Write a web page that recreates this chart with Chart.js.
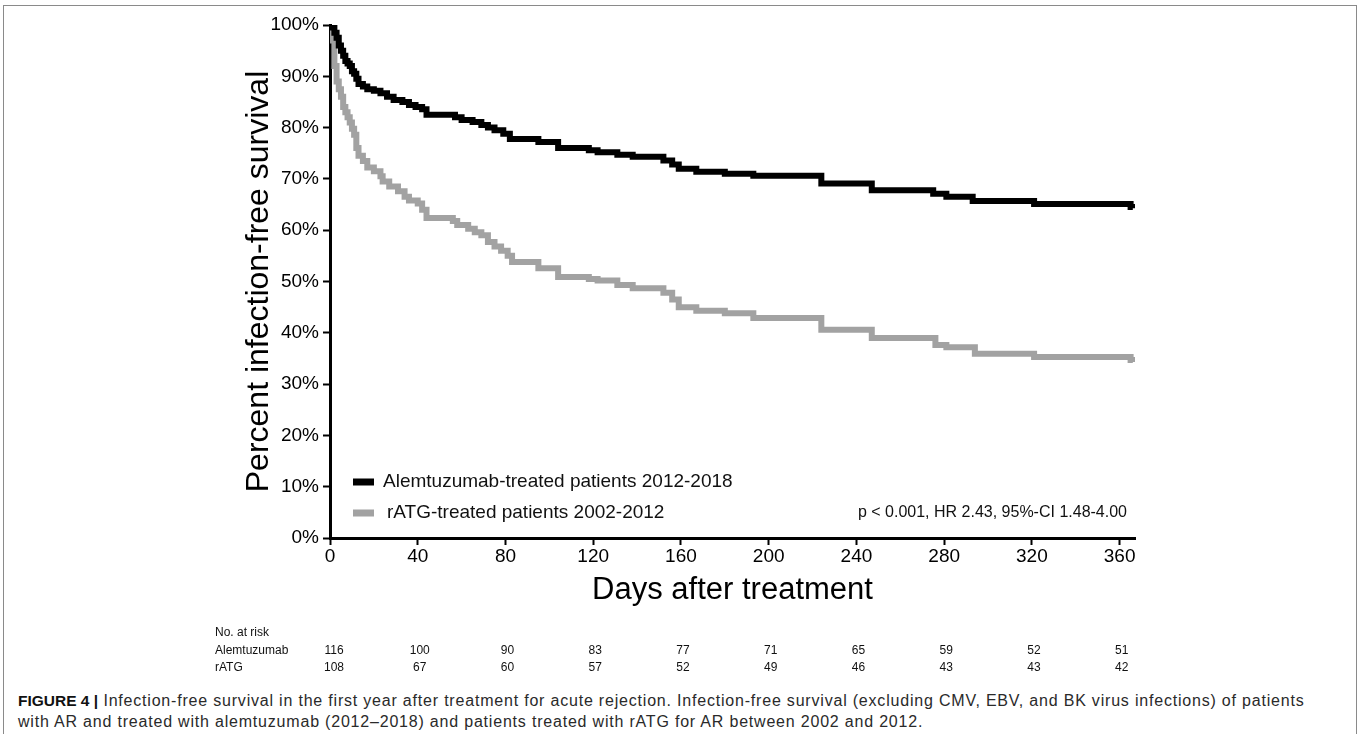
<!DOCTYPE html>
<html>
<head>
<meta charset="utf-8">
<script src="https://cdn.jsdelivr.net/npm/chart.js@4.4.0/dist/chart.umd.min.js"></script>
<style>
  body { margin: 0; background: #fff; width: 1360px; height: 734px; overflow: hidden; position: relative;
         font-family: "Liberation Sans", Arial, sans-serif; }
  #frame { position: absolute; left: 3px; top: 5px; width: 1352px; height: 760px; border: 1px solid #8a8a8a; border-bottom: none; }
  #wrap { position: absolute; left: 0; top: 0; width: 1360px; height: 690px; }
  #caption { position: absolute; left: 18px; top: 690px; font-size: 16px; line-height: 21px; color: #2a2a2a;
             white-space: nowrap; letter-spacing: 0.8px; }
  #caption b { color: #111; font-size: 15.5px; letter-spacing: 0; }
</style>
</head>
<body>
<div id="frame"></div>
<div id="wrap"><canvas id="km"></canvas></div>
<div id="caption"><b>FIGURE 4 |</b> Infection-free survival in the first year after treatment for acute rejection. Infection-free survival (excluding CMV, EBV, and BK virus infections) of patients<br>with AR and treated with alemtuzumab (2012–2018) and patients treated with rATG for AR between 2002 and 2012.</div>
<script>
// Kaplan-Meier steps (day of event, survival % after it)
const alemDays = [0, 1, 2, 3, 4, 5, 6, 7, 8, 9, 10, 11, 12, 13, 15, 17, 20, 23, 26, 29, 33, 36, 39, 42, 44,
  57, 60, 65, 69, 72, 75, 79, 82, 95, 104, 118, 122, 131, 138, 152, 156, 159, 167, 180, 193, 224, 247,
  275, 281, 293, 321, 365, 366];
const alemSurv = [100, 99.5, 98.5, 97.5, 96, 95, 94, 93, 92.5, 92, 91, 90.5, 89.5, 88.5, 88, 87.5, 87.2, 86.7,
  86, 85.4, 85, 84.4, 84, 83.6, 82.5, 82, 81.5, 81.1, 80.5, 80, 79.5, 78.8, 77.8, 77.2, 76, 75.6, 75.2, 74.7,
  74.3, 73.6, 72.8, 72, 71.4, 71, 70.6, 69.1, 67.8, 67.1, 66.5, 65.7, 65.1, 64.5, 64.3];

const ratgDays = [0, 1, 2, 3, 4, 5, 6, 7, 8, 9, 10, 11, 12, 13, 15, 17, 20, 23, 24, 27, 31, 34, 36, 40, 42, 44,
  56, 58, 63, 66, 69, 72, 75, 78, 81, 83, 95, 104, 118, 122, 131, 138, 152, 156, 159, 167, 180, 193, 224,
  247, 276, 281, 294, 321, 365, 366];
const ratgSurv = [100, 97, 92, 89, 87.5, 86, 84, 83, 82, 81, 79.8, 78.6, 76, 74.5, 73.5, 72.2, 71.5, 70.5, 69.5,
  68.5, 67.6, 66.5, 65.8, 65.2, 64, 62.4, 61.8, 61, 60.3, 59.6, 59, 57.7, 56.8, 56, 55, 53.8, 52.6, 50.9,
  50.5, 50.2, 49.3, 48.7, 47.8, 46.5, 45, 44.3, 43.8, 42.9, 40.6, 39, 37.6, 37.2, 35.9, 35.3, 34.7, 34.3];

const seriesNames = ['Alemtuzumab-treated patients 2012-2018', 'rATG-treated patients 2002-2012'];
const riskGroups = ['Alemtuzumab', 'rATG'];
const riskDays = [0, 40, 80, 120, 160, 200, 240, 280, 320, 360];
const riskAlem = [116, 100, 90, 83, 77, 71, 65, 59, 52, 51];
const riskRatg = [108, 67, 60, 57, 52, 49, 46, 43, 43, 42];
const statText = 'p < 0.001, HR 2.43, 95%-CI 1.48-4.00';

const FONT = '"Liberation Sans", Arial, sans-serif';

const toPoints = (days, vals) => days.map((d, i) => ({ x: d, y: vals[i] }));

const overlay = {
  id: 'overlay',
  afterDraw(chart) {
    const { ctx, chartArea, scales: { x } } = chart;
    ctx.save();
    // legend inside the plot
    const rowsY = [chartArea.bottom - 56, chartArea.bottom - 25];
    const textX = [chartArea.left + 53, chartArea.left + 57];
    ctx.font = '19px ' + FONT;
    ctx.textBaseline = 'middle';
    chart.data.datasets.forEach((ds, i) => {
      ctx.fillStyle = ds.borderColor;
      ctx.fillRect(chartArea.left + 23, rowsY[i] - 3.5, 21, 7);
      ctx.fillStyle = '#111';
      ctx.textAlign = 'left';
      ctx.fillText(ds.label, textX[i], rowsY[i]);
    });
    ctx.font = '16px ' + FONT;
    ctx.textAlign = 'right';
    ctx.fillText(statText, chartArea.right - 8, rowsY[1]);

    // numbers at risk
    ctx.font = '12px ' + FONT;
    ctx.textAlign = 'left';
    ctx.fillStyle = '#111';
    ctx.fillText('No. at risk', 215, 633);
    ctx.fillText(riskGroups[0], 215, 651);
    ctx.fillText(riskGroups[1], 215, 668);
    ctx.textAlign = 'center';
    riskDays.forEach((d, i) => {
      const px = x.getPixelForValue(d) + (i === 0 ? 4 : 2);
      ctx.fillText(String(riskAlem[i]), px, 651);
      ctx.fillText(String(riskRatg[i]), px, 668);
    });
    ctx.restore();
  }
};

new Chart(document.getElementById('km'), {
  type: 'line',
  data: {
    datasets: [
      { label: seriesNames[0], data: toPoints(alemDays, alemSurv), borderColor: '#000000',
        borderWidth: 6, pointRadius: 0, stepped: true, fill: false },
      { label: seriesNames[1], data: toPoints(ratgDays, ratgSurv), borderColor: '#a2a2a2',
        borderWidth: 6, pointRadius: 0, stepped: true, fill: false }
    ]
  },
  options: {
    responsive: true,
    maintainAspectRatio: false,
    animation: false,
    layout: { padding: { left: 236, right: 225, top: 25, bottom: 77 } },
    plugins: { legend: { display: false }, tooltip: { enabled: false } },
    scales: {
      x: {
        type: 'linear', min: 0, max: 367,
        afterFit(scale) { scale.height = 75; },
        border: { display: true, color: '#000', width: 3 },
        grid: { display: true, drawOnChartArea: false, drawTicks: true, tickLength: 7, tickWidth: 2, tickColor: '#000' },
        ticks: { stepSize: 40, includeBounds: false, color: '#000', padding: 0, maxRotation: 0,
                 font: { family: FONT, size: 19 } },
        title: { display: true, text: 'Days after treatment', color: '#000',
                 font: { family: FONT, size: 31 }, padding: { top: 0, bottom: 4 } }
      },
      y: {
        min: 0, max: 100,
        afterFit(scale) { scale.width = 94; },
        border: { display: true, color: '#000', width: 3 },
        grid: { display: true, drawOnChartArea: false, drawTicks: true, tickLength: 7, tickWidth: 2, tickColor: '#000' },
        ticks: { stepSize: 10, color: '#000', padding: 4, callback: v => v + '%',
                 font: { family: FONT, size: 19 } },
        title: { display: true, text: 'Percent infection-free survival', color: '#000',
                 font: { family: FONT, size: 32 }, padding: { top: 4, bottom: 0 } }
      }
    }
  },
  plugins: [overlay]
});
</script>
</body>
</html>
